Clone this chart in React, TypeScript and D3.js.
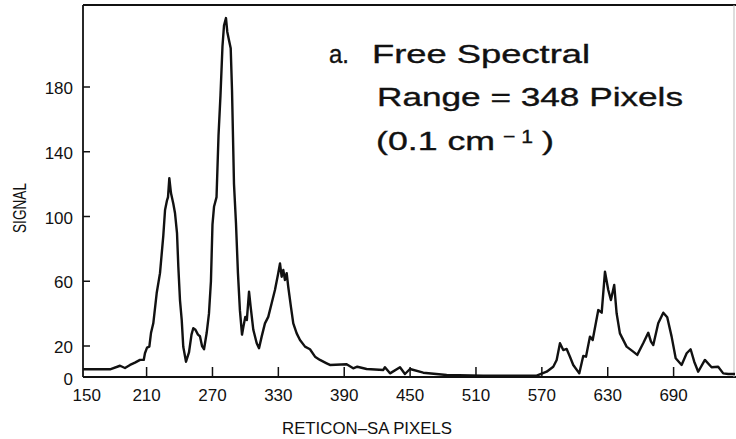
import React from "react";
import * as d3 from "d3";

// Reticon pixel index (x) and signal (y)
const PIXELS = [
  152.1, 176.7, 185.8, 190.3, 194.9, 199.4, 204.0, 207.4, 208.5, 210.4, 212.5, 214.0,
  216.1, 219.2, 222.2, 225.2, 226.8, 228.6, 229.5, 230.7, 232.2, 234.3, 235.9, 237.7,
  238.9, 240.4, 242.0, 243.4, 245.9, 248.6, 250.9, 252.5, 254.5, 256.8, 258.6, 260.5,
  262.3, 264.7, 266.8, 268.6, 270.0, 271.4, 273.7, 275.5, 277.3, 279.1, 280.5, 282.3,
  283.5, 285.0, 286.6, 287.8, 289.6, 291.4, 293.2, 295.0, 296.9, 298.2, 299.9, 301.3,
  303.3, 304.8, 307.2, 310.3, 312.4, 314.8, 317.8, 320.8, 323.9, 326.9, 329.9, 331.5,
  333.0, 334.5, 336.0, 337.6, 339.0, 341.5, 343.6, 346.7, 349.7, 354.3, 358.8, 363.4,
  367.9, 374.0, 377.0, 392.2, 398.2, 401.9, 410.4, 425.6, 427.1, 431.7, 440.8, 445.3,
  449.9, 462.0, 483.3, 516.6, 565.3, 574.4, 580.4, 583.5, 586.5, 589.5, 592.6, 595.6,
  598.6, 604.1, 607.7, 610.2, 613.8, 616.3, 621.4, 624.5, 627.5, 630.5, 632.9, 635.9,
  638.1, 641.1, 647.2, 653.2, 656.9, 662.3, 666.9, 669.4, 671.5, 676.0, 680.6, 684.2,
  688.2, 691.9, 697.3, 701.9, 705.5, 708.8, 712.4, 718.5, 724.6, 730.6, 735.2, 739.8,
  745.9,
];
const SIGNAL = [
  5.6, 5.6, 7.8, 6.4, 8.3, 9.7, 11.4, 11.4, 15.5, 19.0, 19.6, 28.0,
  34.0, 52.7, 65.0, 88.0, 104.0, 110.0, 112.0, 123.7, 114.5, 108.0, 102.0, 89.7,
  69.0, 48.4, 36.0, 19.5, 10.3, 16.0, 27.0, 31.0, 30.0, 27.0, 26.0, 20.0,
  18.0, 28.0, 40.0, 60.0, 95.0, 106.0, 112.0, 150.0, 175.0, 205.0, 218.0, 222.6,
  214.0, 209.0, 204.0, 178.0, 120.0, 96.0, 65.0, 42.0, 27.0, 32.0, 38.0, 36.0,
  53.6, 44.0, 30.0, 21.7, 18.6, 25.8, 34.0, 38.0, 46.4, 54.6, 65.0, 71.0,
  62.8, 67.0, 60.8, 65.0, 56.6, 44.0, 34.0, 27.8, 23.7, 19.6, 18.0, 13.4,
  11.4, 9.3, 8.3, 8.7, 6.2, 7.2, 5.8, 5.2, 6.9, 3.1, 6.9, 2.7,
  5.8, 3.5, 2.1, 1.7, 1.7, 4.1, 7.2, 11.4, 21.7, 17.5, 18.2, 13.4,
  8.3, 3.1, 13.8, 13.4, 25.8, 23.7, 42.2, 40.6, 65.9, 54.6, 48.4, 57.7,
  40.2, 27.8, 19.6, 16.5, 14.5, 21.7, 28.2, 22.7, 20.6, 34.0, 40.6, 37.7,
  25.8, 12.4, 8.3, 15.5, 18.0, 10.3, 4.1, 11.4, 6.9, 7.2, 3.1, 2.7,
  2.7,
];

const X_TICKS = [210, 270, 330, 390, 450, 510, 570, 630, 690];
const X_LABELS = [150, 210, 270, 330, 390, 450, 510, 570, 630, 690];
const Y_TICKS = [20, 60, 100, 140, 180];
const Y_LABELS = [0, 20, 60, 100, 140, 180];
const X_TITLE = "RETICON–SA PIXELS";
const Y_TITLE = "SIGNAL";
const NOTE_PREFIX = "a.";
const NOTE_LINE1 = "Free Spectral";
const NOTE_LINE2 = "Range = 348 Pixels";
const NOTE_LINE3 = "(0.1 cm";
const NOTE_SUP = "− 1";
const NOTE_CLOSE = ")";

const W = 736;
const H = 439;
const LEFT = 83;
const RIGHT = 736;
const TOP = 5;
const BOTTOM = 377;
const FONT = "'Liberation Sans', Arial, Helvetica, sans-serif";
const INK = "#111";

export default function App() {
  const x = d3.scaleLinear().domain([210, 690]).range([146.6, 673.6]);
  const y = d3.scaleLinear().domain([20, 180]).range([346, 87]);

  const data = PIXELS.map((p, i) => [p, SIGNAL[i]] as [number, number]);
  const line = d3
    .line<[number, number]>()
    .x((d) => x(d[0]))
    .y((d) => y(d[1]))
    .curve(d3.curveLinear);

  const noteStyle = { stroke: INK, strokeWidth: 0.35 };

  return (
    <svg
      width={W}
      height={H}
      viewBox={`0 0 ${W} ${H}`}
      style={{ position: "fixed", left: 0, top: 0, background: "#fff" }}
      fontFamily={FONT}
    >
      <rect x={0} y={0} width={W} height={H} fill="#fff" />
      <defs>
        <clipPath id="plot">
          <rect x={LEFT} y={TOP} width={RIGHT - LEFT} height={BOTTOM - TOP} />
        </clipPath>
      </defs>

      {/* frame */}
      <line x1={LEFT} x2={RIGHT} y1={TOP} y2={TOP} stroke={INK} strokeWidth={1.8} />
      <line x1={LEFT} x2={LEFT} y1={TOP} y2={BOTTOM} stroke={INK} strokeWidth={1.8} />
      <line x1={LEFT} x2={RIGHT} y1={BOTTOM} y2={BOTTOM} stroke={INK} strokeWidth={1.8} />
      <line x1={734} x2={734} y1={TOP} y2={BOTTOM} stroke="#bbb" strokeWidth={1} />

      {/* x ticks */}
      {X_TICKS.map((t) => (
        <line key={"xt" + t} x1={x(t)} x2={x(t)} y1={BOTTOM} y2={BOTTOM - 10} stroke={INK} strokeWidth={1.5} />
      ))}
      {X_LABELS.map((t, i) => (
        <text key={"xl" + t} x={x(t) + (i === 0 ? 6 : 0)} y={401} fontSize={17} textAnchor="middle" fill={INK}>
          {t}
        </text>
      ))}

      {/* y ticks */}
      {Y_TICKS.map((t) => (
        <line key={"yt" + t} x1={LEFT} x2={LEFT + 7} y1={y(t)} y2={y(t)} stroke={INK} strokeWidth={1.5} />
      ))}
      {Y_LABELS.map((t) => (
        <text key={"yl" + t} x={73} y={y(t) + 7} fontSize={17} textAnchor="end" fill={INK}>
          {t}
        </text>
      ))}

      {/* axis titles */}
      <text x={367} y={434} fontSize={16} textAnchor="middle" fill={INK} textLength={170} lengthAdjust="spacingAndGlyphs">
        {X_TITLE}
      </text>
      <text
        transform="translate(26,208) rotate(-90)"
        fontSize={18}
        textAnchor="middle"
        fill={INK}
        textLength={50}
        lengthAdjust="spacingAndGlyphs"
      >
        {Y_TITLE}
      </text>

      {/* spectrum */}
      <path d={line(data) || ""} fill="none" stroke={INK} strokeWidth={2.4} strokeLinejoin="round" clipPath="url(#plot)" />

      {/* annotation */}
      <text x={329} y={63} fontSize={25} fill={INK} {...noteStyle} textLength={20} lengthAdjust="spacingAndGlyphs">
        {NOTE_PREFIX}
      </text>
      <text x={372} y={63} fontSize={25} fill={INK} {...noteStyle} textLength={218} lengthAdjust="spacingAndGlyphs">
        {NOTE_LINE1}
      </text>
      <text x={377} y={106} fontSize={25} fill={INK} {...noteStyle} textLength={306} lengthAdjust="spacingAndGlyphs">
        {NOTE_LINE2}
      </text>
      <text x={376} y={150} fontSize={25} fill={INK} {...noteStyle} textLength={119} lengthAdjust="spacingAndGlyphs">
        {NOTE_LINE3}
      </text>
      <text x={503} y={143} fontSize={19} fill={INK} {...noteStyle} textLength={30} lengthAdjust="spacingAndGlyphs">
        {NOTE_SUP}
      </text>
      <text x={542} y={150} fontSize={25} fill={INK} {...noteStyle} textLength={12} lengthAdjust="spacingAndGlyphs">
        {NOTE_CLOSE}
      </text>
    </svg>
  );
}
